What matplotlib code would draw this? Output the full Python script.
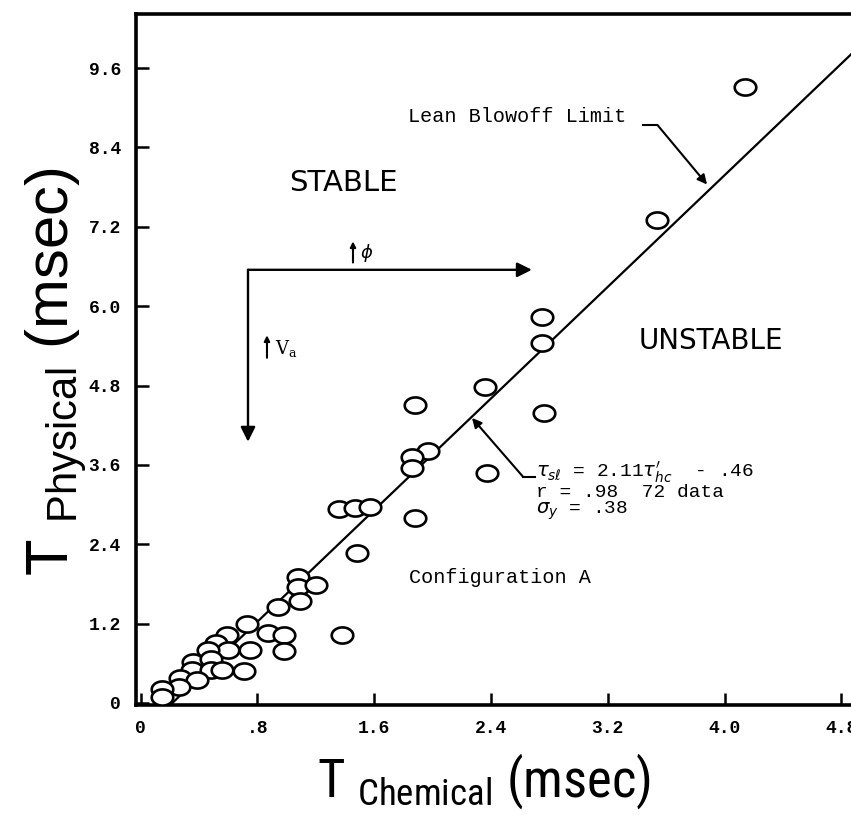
import numpy as np
import matplotlib
matplotlib.use("Agg")
import matplotlib.pyplot as plt
from matplotlib.path import Path

# points (msec)
t_chemical = [4.14, 3.54, 2.75, 2.75, 2.36, 2.76, 2.37, 1.88, 1.97, 1.86,
              1.86, 1.36, 1.47, 1.57, 1.88, 1.48, 1.38, 1.08, 1.08, 1.20,
              1.09, 0.94, 0.73, 0.87, 0.98, 0.98, 0.75, 0.71, 0.59, 0.52,
              0.60, 0.46, 0.36, 0.48, 0.35, 0.48, 0.56, 0.27, 0.39, 0.26,
              0.15, 0.15]
t_physical = [9.32, 7.31, 5.84, 5.45, 4.78, 4.39, 3.48, 4.51, 3.81, 3.72,
              3.56, 2.93, 2.95, 2.97, 2.80, 2.27, 1.03, 1.91, 1.76, 1.78,
              1.54, 1.45, 1.19, 1.06, 1.03, 0.79, 0.80, 0.49, 1.03, 0.91,
              0.80, 0.80, 0.62, 0.66, 0.50, 0.50, 0.50, 0.38, 0.35, 0.24,
              0.21, 0.09]

# regression quoted on the chart: tau_sl = 2.11 tau_hc - .46
fit_slope = 2.11
fit_intercept = -0.46
fit_x = [-fit_intercept / fit_slope, 5.0]

x_ticks = [0, 0.8, 1.6, 2.4, 3.2, 4.0, 4.8]
x_tick_labels = ["0", ".8", "1.6", "2.4", "3.2", "4.0", "4.8"]
y_ticks = [0, 1.2, 2.4, 3.6, 4.8, 6.0, 7.2, 8.4, 9.6]
y_tick_labels = ["0", "1.2", "2.4", "3.6", "4.8", "6.0", "7.2", "8.4", "9.6"]

TYPE = ["Liberation Mono", "DejaVu Sans Mono"]
NARROW = ["Liberation Sans Narrow", "Roboto Condensed", "Open Sans Condensed",
          "Liberation Sans"]

fig = plt.figure(figsize=(8.51, 8.15), dpi=100)
ax = fig.add_axes([0.160, 0.135, 0.851, 0.848])
ax.set_xlim(-0.03, 4.93)
ax.set_ylim(-0.03, 10.42)

# frame / ticks, scanned look
for side in ax.spines.values():
    side.set_linewidth(2.6)
ax.tick_params(direction="in", length=9, width=1.8, pad=11,
               top=False, right=False)
ax.set_xticks(x_ticks)
ax.set_xticklabels(x_tick_labels, family=TYPE, fontsize=13, fontweight="bold")
ax.set_yticks(y_ticks)
ax.set_yticklabels(y_tick_labels, family=TYPE, fontsize=13, fontweight="bold")

# lean blowoff line, then open ellipse markers on top of it
fit_y = [fit_slope * v + fit_intercept for v in fit_x]
ax.plot(fit_x, fit_y, color="black", lw=1.6, zorder=2)

t = np.linspace(0, 2 * np.pi, 64)
ellipse = Path(np.column_stack([np.cos(t), 0.75 * np.sin(t)]), closed=True)
ax.plot(t_chemical, t_physical, linestyle="none", marker=ellipse,
        markersize=15.5, markerfacecolor="white", markeredgecolor="black",
        markeredgewidth=1.9, zorder=3)

# region labels
ax.text(1.39, 7.87, "STABLE", family="DejaVu Sans", fontsize=21,
        ha="center", va="center")
ax.text(3.91, 5.48, "UNSTABLE", family="DejaVu Sans", fontsize=20,
        ha="center", va="center")
ax.text(2.46, 1.89, "Configuration A", family=TYPE, fontsize=14.5,
        ha="center", va="center")
ax.text(2.58, 8.87, "Lean Blowoff Limit", family=TYPE, fontsize=14.5,
        ha="center", va="center")

# leader to the fit line (lean blowoff)
ax.plot([3.44, 3.54], [8.74, 8.74], color="black", lw=1.5)
ax.annotate("", xy=(3.88, 7.84), xytext=(3.54, 8.74),
            arrowprops=dict(arrowstyle="-|>", color="black", lw=1.5,
                            mutation_scale=14, shrinkA=0, shrinkB=0))

# regression note
ax.plot([2.62, 2.70], [3.42, 3.42], color="black", lw=1.5)
ax.annotate("", xy=(2.27, 4.31), xytext=(2.62, 3.42),
            arrowprops=dict(arrowstyle="-|>", color="black", lw=1.5,
                            mutation_scale=14, shrinkA=0, shrinkB=0))
ax.text(2.71, 3.49, r"$\tau_{s\ell}$ = 2.11$\tau^{\prime}_{hc}$  - .46",
        family=TYPE, fontsize=14, va="center")
ax.text(2.71, 3.18, "r = .98  72 data", family=TYPE, fontsize=14,
        va="center")
ax.text(2.71, 2.90, r"$\sigma_y$ = .38", family=TYPE, fontsize=14,
        va="center")

# phi / V_a direction arrows
big = dict(arrowstyle="-|>", color="black", lw=1.7, mutation_scale=22,
           shrinkA=0, shrinkB=0)
ax.annotate("", xy=(2.68, 6.55), xytext=(0.736, 6.55), arrowprops=big)
ax.annotate("", xy=(0.736, 3.95), xytext=(0.736, 6.55), arrowprops=big)
small = dict(arrowstyle="-|>", color="black", lw=1.5, mutation_scale=8,
             shrinkA=0, shrinkB=0)
ax.annotate("", xy=(1.455, 6.98), xytext=(1.455, 6.66), arrowprops=small)
ax.text(1.50, 6.80, r"$\phi$", fontsize=13, va="center")
ax.annotate("", xy=(0.866, 5.56), xytext=(0.866, 5.22), arrowprops=small)
ax.text(0.92, 5.36, r"V$_\mathregular{a}$", family="DejaVu Serif",
        fontsize=13, va="center")

# axis titles
fig.text(484 / 851, 1 - 797 / 815, r"T $_\mathregular{Chemical}$ (msec)",
         family=NARROW, fontsize=38, ha="center", va="baseline")
fig.text(69 / 851, 1 - 372 / 815, r"T $_\mathregular{Physical}$ (msec)",
         family="Liberation Sans", fontsize=43, ha="center", va="baseline",
         rotation=90, rotation_mode="anchor")

fig.savefig("out.png", dpi=100)
